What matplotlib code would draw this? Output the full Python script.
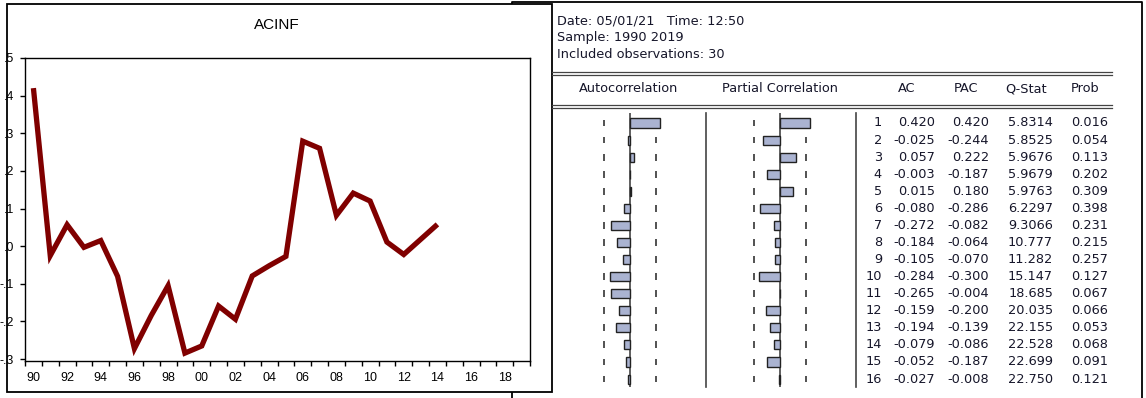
import numpy as np
import matplotlib
matplotlib.use("Agg")
import matplotlib.pyplot as plt
from matplotlib.patches import Rectangle
from matplotlib.ticker import FixedLocator, FuncFormatter, NullFormatter

# ACINF series, annual 1990-2014
years = np.arange(1990, 2015)
acinf = [0.420, -0.025, 0.057, -0.003, 0.015, -0.080, -0.272, -0.184, -0.105,
         -0.284, -0.265, -0.159, -0.194, -0.079, -0.052, -0.027, 0.279, 0.260,
         0.082, 0.141, 0.120, 0.011, -0.022, 0.018, 0.058]

# correlogram output
nobs = 30
lags = np.arange(1, 17)
ac = [0.420, -0.025, 0.057, -0.003, 0.015, -0.080, -0.272, -0.184,
      -0.105, -0.284, -0.265, -0.159, -0.194, -0.079, -0.052, -0.027]
pac = [0.420, -0.244, 0.222, -0.187, 0.180, -0.286, -0.082, -0.064,
       -0.070, -0.300, -0.004, -0.200, -0.139, -0.086, -0.187, -0.008]
qstat = [5.8314, 5.8525, 5.9676, 5.9679, 5.9763, 6.2297, 9.3066, 10.777,
         11.282, 15.147, 18.685, 20.035, 22.155, 22.528, 22.699, 22.750]
prob = [0.016, 0.054, 0.113, 0.202, 0.309, 0.398, 0.231, 0.215,
        0.257, 0.127, 0.067, 0.066, 0.053, 0.068, 0.091, 0.121]
header = ["Date: 05/01/21   Time: 12:50",
          "Sample: 1990 2019",
          "Included observations: 30"]

W, H = 1146, 398
plt.rcParams['font.family'] = ['Liberation Sans', 'DejaVu Sans']
fig = plt.figure(figsize=(W / 100, H / 100), dpi=100)


def px_axes(x0, y0, x1, y1):
    # axes placed by pixel box (y measured from the top)
    return fig.add_axes([x0 / W, 1 - y1 / H, (x1 - x0) / W, (y1 - y0) / H])


# background layer: window frames and table text in pixel units
bg = px_axes(0, 0, W, H)
bg.set_xlim(0, W)
bg.set_ylim(H, 0)
bg.axis('off')

bg.plot([512, 512, 1142, 1142], [398, 2, 2, 398], color='k', lw=1.3)
bg.add_patch(Rectangle((7, 4), 545, 388, fc='white', ec='k', lw=1.3, zorder=3))
bg.text(277, 25, 'ACINF', ha='center', va='center', fontsize=11, zorder=4)

tfont = dict(family='DejaVu Sans', fontsize=9.3, color='#16162a', zorder=4)
for i, line in enumerate(header):
    bg.text(557, 21 + 17 * i, line, ha='left', va='center', **tfont)

for y in (71.5, 74.5, 104.5, 107.5):
    bg.plot([552, 1112], [y, y], color='#444444', lw=0.9, zorder=4)

for x, lab in [(629, 'Autocorrelation'), (780, 'Partial Correlation'),
               (907, 'AC'), (966, 'PAC'), (1026, 'Q-Stat'), (1085, 'Prob')]:
    bg.text(x, 89, lab, ha='center', va='center', **tfont)

for x in (706, 856):
    bg.plot([x, x], [113, 387], color='#444444', lw=1.2, zorder=4)

ROW = 17.07
for k, a, p, q, pr in zip(lags, ac, pac, qstat, prob):
    y = 123 + (k - 1) * ROW
    bg.text(882, y, str(k), ha='right', va='center', **tfont)
    bg.text(935, y, f"{a:.3f}", ha='right', va='center', **tfont)
    bg.text(989, y, f"{p:.3f}", ha='right', va='center', **tfont)
    bg.text(1053, y, f"{q:#.5g}", ha='right', va='center', **tfont)
    bg.text(1108, y, f"{pr:.3f}", ha='right', va='center', **tfont)

# correlogram bar panels
S = 71.2
bound = 2 / np.sqrt(nobs)


def corr_panel(x0, x1, zero, vals):
    a = px_axes(x0, 113, x1, 387)
    a.set_zorder(3)
    a.set_xlim((x0 - zero) / S, (x1 - zero) / S)
    a.set_ylim(1 + (387 - 123) / ROW, 1 + (113 - 123) / ROW)
    a.axis('off')
    # +/- 2 standard error bounds, one dash per lag, under the bars
    for b in (-bound, bound):
        a.vlines(np.full(len(lags), b), lags - 0.2, lags + 0.2,
                 color='#333333', lw=1.2, zorder=0.5)
    a.axvline(0, color='#444444', lw=1.2, zorder=1.5)
    a.barh(lags, vals, height=0.53, color='#aab3d1', edgecolor='#222222',
           lw=1, zorder=2)
    return a


corr_panel(590, 700, 630, ac)
corr_panel(740, 850, 780, pac)

# ACINF line chart
ax = px_axes(25, 58, 530, 361)
ax.set_zorder(2)
ax.plot(years + 0.5, acinf, color='#800000', lw=3.8,
        solid_joinstyle='miter', solid_capstyle='butt')
ax.set_xlim(1990, 2020)
ax.set_ylim(-0.305, 0.5)

ax.xaxis.set_major_locator(FixedLocator(np.arange(1990, 2021)))
ax.xaxis.set_major_formatter(NullFormatter())
ax.xaxis.set_minor_locator(FixedLocator(np.arange(1990, 2020, 2) + 0.5))
ax.xaxis.set_minor_formatter(FuncFormatter(lambda v, p: f"{int(v) % 100:02d}"))
ax.tick_params(axis='x', which='major', direction='out', length=3.6, width=1)
ax.tick_params(axis='x', which='minor', length=0, pad=8, labelsize=9)

ax.set_yticks(np.round(np.arange(-0.3, 0.51, 0.1), 1))
ax.yaxis.set_major_formatter(FuncFormatter(lambda v, p: f"{v:.1f}".replace("0.", ".")))
ax.tick_params(axis='y', direction='out', length=3.6, width=1, pad=4.5, labelsize=9)
for s in ax.spines.values():
    s.set_linewidth(1)

fig.savefig('out.png', dpi=100)
